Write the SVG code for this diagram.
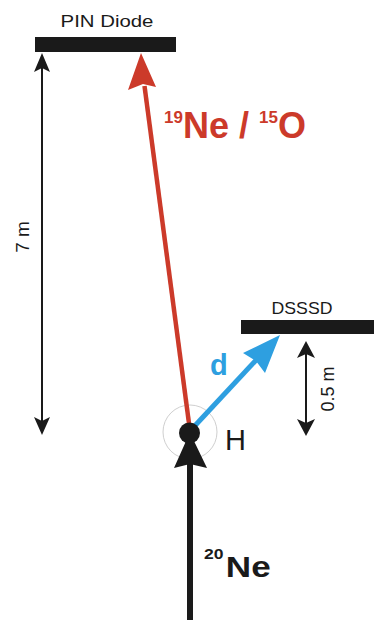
<svg xmlns="http://www.w3.org/2000/svg" width="374" height="620" viewBox="0 0 374 620">
<style>
.lbl{font-family:"Liberation Sans",Arial,sans-serif;fill:#1a1a1a}
.big{font-family:"Liberation Sans",Arial,sans-serif;font-weight:bold}
.dim{stroke:#1a1a1a;stroke-width:2;fill:none}
.head{fill:#1a1a1a}
</style>
<rect width="374" height="620" fill="#fff"/>
<g id="pin-diode">
<rect x="35" y="37" width="141" height="15" fill="#1a1a1a"/>
<text class="lbl" transform="translate(107,27) scale(1.2,1)" font-size="17" text-anchor="middle">PIN Diode</text>
</g>
<g id="dsssd">
<rect x="241" y="320" width="133" height="14" fill="#1a1a1a"/>
<text class="lbl" transform="translate(302,314) scale(1.04,1)" font-size="17" text-anchor="middle">DSSSD</text>
</g>
<g id="target">
<circle cx="190" cy="432" r="27" fill="none" stroke="#cfcfcf" stroke-width="1"/>
<text class="lbl" x="225" y="450" font-size="29">H</text>
</g>
<g id="connectors">
<line class="dim" x1="42" y1="66" x2="42" y2="422"/>
<polygon class="head" points="42,53 50,72 42,68 34,72"/>
<polygon class="head" points="42,435 50,417 42,421 34,417"/>
<line class="dim" x1="306" y1="352" x2="306" y2="425"/>
<polygon class="head" points="306,341 315,358 306,354 297,358"/>
<polygon class="head" points="306,436 315,419 306,423 297,419"/>
<line x1="190" y1="431" x2="144.5" y2="86" stroke="#cc3a2a" stroke-width="4.5"/>
<polygon points="141,53 156,87 143,84 128,90" fill="#cc3a2a"/>
<line x1="190" y1="431" x2="258" y2="358" stroke="#2e9fe0" stroke-width="5"/>
<polygon points="280,335 265,373 256,361 243,353" fill="#2e9fe0"/>
<line x1="190" y1="620" x2="190" y2="462" stroke="#1a1a1a" stroke-width="6"/>
<circle cx="189.5" cy="433" r="10.5" fill="#1a1a1a"/>
<polygon points="186.5,440 193.5,440 207,468 190,464 174,468" fill="#1a1a1a"/>
</g>
<g id="labels">
<text class="lbl" transform="translate(29,237) rotate(-90)" font-size="19" text-anchor="middle">7 m</text>
<text class="lbl" transform="translate(334,389) rotate(-90)" font-size="18" text-anchor="middle">0.5 m</text>
<text class="big" x="164" y="138" fill="#cc3a2a" font-size="36"><tspan font-size="17" dy="-15">19</tspan><tspan dy="15">Ne / </tspan><tspan font-size="17" dy="-15">15</tspan><tspan dy="15">O</tspan></text>
<text class="big" x="210" y="375" fill="#2e9fe0" font-size="29">d</text>
<text class="big" transform="translate(204,577) scale(1.17,1)" fill="#1a1a1a" font-size="30"><tspan font-size="15" dy="-18">20</tspan><tspan dy="18" dx="2">Ne</tspan></text>
</g>
</svg>
